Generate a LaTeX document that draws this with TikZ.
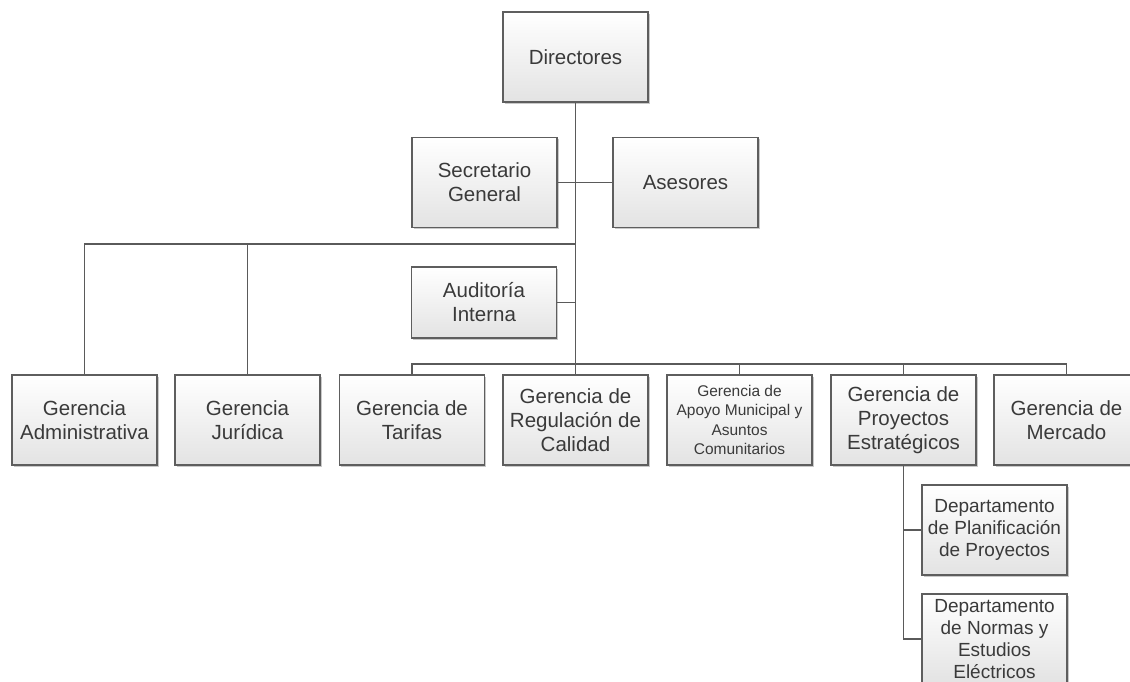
\documentclass[tikz,border=0pt]{standalone}
\usepackage{fontspec}
\setmainfont{Liberation Sans}
\usetikzlibrary{shadows}
\definecolor{linec}{HTML}{5A5A5A}
\definecolor{boxb}{HTML}{5E5E5E}
\definecolor{txt}{HTML}{3A3A3A}
\tikzset{
  orgbox/.style={draw=boxb, line width=1.4pt, top color=white, bottom color=black!11,
    minimum width=145pt, minimum height=90pt, inner sep=1pt, align=center,
    text=txt, font=\fontsize{20.5}{24}\selectfont,
    drop shadow={shadow xshift=1.6pt, shadow yshift=-1.8pt, opacity=0.35, fill=black!60}},
  smalltext/.style={font=\fontsize{15.5}{19.5}\selectfont},
  depttext/.style={font=\fontsize{19}{22}\selectfont},
  conn/.style={draw=linec, line width=1.3pt}
}
\begin{document}
\begin{tikzpicture}[x=1pt,y=-1pt]
\useasboundingbox (0,0) rectangle (1130,682);
\fill[white] (0,0) rectangle (1130,682);
\coordinate (b1) at (575.5,244);
\coordinate (b2) at (575.5,364);
\path
  node[orgbox] (dir) at (575.5,57) {Directores}
  node[orgbox] (sec) at (484.5,182.5) {Secretario\\General}
  node[orgbox] (ase) at (685.5,182.5) {Asesores}
  node[orgbox, minimum height=71pt] (aud) at (484,302.5) {Auditoría\\Interna}
  node[orgbox] (adm) at (84.5,420) {Gerencia\\Administrativa}
  node[orgbox] (jur) at (247.5,420) {Gerencia\\Jurídica}
  node[orgbox] (tar) at (412,420) {Gerencia de\\Tarifas}
  node[orgbox] (reg) at (575.5,420) {Gerencia de\\Regulación de\\Calidad}
  node[orgbox, smalltext] (apo) at (739.5,420) {Gerencia de\\Apoyo Municipal y\\Asuntos\\Comunitarios}
  node[orgbox] (pro) at (903.5,420) {Gerencia de\\Proyectos\\Estratégicos}
  node[orgbox] (mer) at (1066.5,420) {Gerencia de\\Mercado}
  node[orgbox, depttext] (d1) at (994.5,530) {Departamento\\de Planificación\\de Proyectos}
  node[orgbox, depttext] (d2) at (994.5,639) {Departamento\\de Normas y\\Estudios\\Eléctricos};
\draw[conn] (dir.south) -- (reg.north);
\draw[conn] (sec.east) -- (ase.west);
\draw[conn] (adm.north) |- (b1);
\draw[conn] (jur.north) -- (jur.north |- b1);
\draw[conn] (aud.east) -- (aud.east -| dir.south);
\draw[conn] (tar.north) |- (mer.north |- b2) -- (mer.north);
\draw[conn] (apo.north) -- (apo.north |- b2);
\draw[conn] (pro.north) -- (pro.north |- b2);
\draw[conn] (pro.south) |- (d2.west);
\draw[conn] (d1.west) -- (d1.west -| pro.south);
\end{tikzpicture}
\end{document}
